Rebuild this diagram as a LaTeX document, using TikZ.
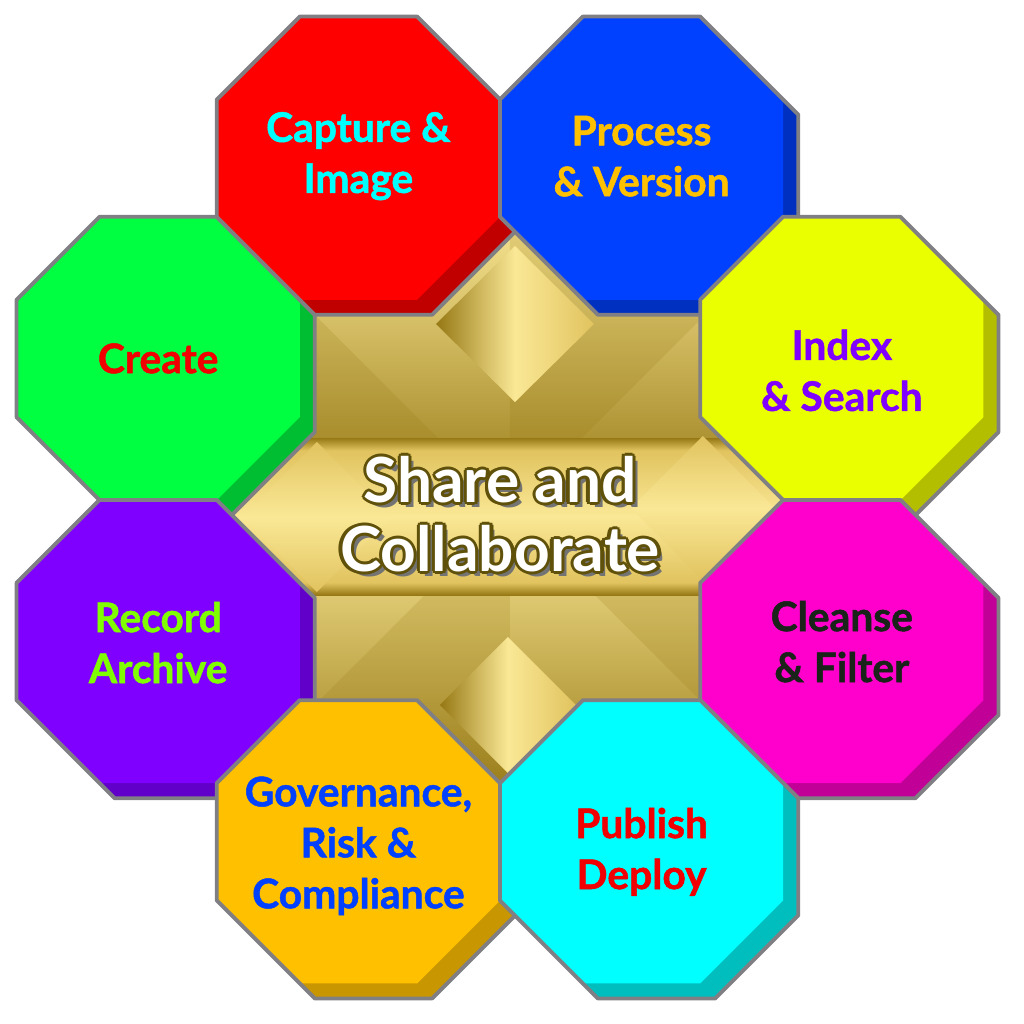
\documentclass[tikz,border=0pt]{standalone}
\usepackage{fontspec}
\setmainfont{Lato}
\newfontfamily\tilefont{Lato}[FakeBold=1.2]
\usepackage{xcolor}

\definecolor{rimgray}{RGB}{128,128,132}
\definecolor{greenface}{RGB}{0,255,64}
\definecolor{greenside}{RGB}{0,190,50}
\definecolor{redface}{RGB}{255,0,0}
\definecolor{redside}{RGB}{192,0,0}
\definecolor{blueface}{RGB}{0,64,255}
\definecolor{blueside}{RGB}{0,48,192}
\definecolor{yellowface}{RGB}{234,255,0}
\definecolor{yellowside}{RGB}{180,190,0}
\definecolor{pinkface}{RGB}{255,0,204}
\definecolor{pinkside}{RGB}{192,0,150}
\definecolor{violetface}{RGB}{128,0,255}
\definecolor{violetside}{RGB}{96,0,200}
\definecolor{amberface}{RGB}{255,192,0}
\definecolor{amberside}{RGB}{200,150,0}
\definecolor{aquaface}{RGB}{0,255,255}
\definecolor{aquaside}{RGB}{0,190,190}
\definecolor{redink}{RGB}{240,0,0}
\definecolor{aquaink}{RGB}{0,255,255}
\definecolor{amberink}{RGB}{255,192,0}
\definecolor{violetink}{RGB}{128,0,255}
\definecolor{darkink}{RGB}{25,35,25}
\definecolor{limeink}{RGB}{128,255,0}
\definecolor{blueink}{RGB}{0,64,255}
\definecolor{goldlight}{RGB}{250,232,150}
\definecolor{goldmid}{RGB}{225,195,95}
\definecolor{golddark}{RGB}{150,120,20}
\definecolor{rimbrown}{RGB}{95,80,10}

\pgfdeclareverticalshading{goldband}{100bp}{color(0bp)=(golddark); color(25bp)=(golddark);
  color(29bp)=(goldmid); color(50bp)=(goldlight); color(71bp)=(goldmid);
  color(75bp)=(golddark); color(100bp)=(golddark)}

\newcommand{\rad}{1.533}
\newcommand{\faceshape}{(22.5:\rad) -- (67.5:\rad) -- (112.5:\rad) -- (157.5:\rad)
  -- (202.5:\rad) -- (247.5:\rad) -- (292.5:\rad) -- (337.5:\rad) -- cycle}
\newcommand{\hullshape}{(67.5:\rad) -- (112.5:\rad) -- (157.5:\rad) -- (202.5:\rad)
  -- ([xshift=1.5mm,yshift=-1.5mm]247.5:\rad) -- ([xshift=1.5mm,yshift=-1.5mm]292.5:\rad)
  -- ([xshift=1.5mm,yshift=-1.5mm]337.5:\rad) -- ([xshift=1.5mm,yshift=-1.5mm]22.5:\rad) -- cycle}
% #1 angle, #2 face, #3 side, #4 ink, #5 text shift, #6 name, #7 text
\newcommand{\ringtile}[7]{%
  \fill[#3, shift={(#1:3.70)}] \hullshape;
  \fill[#2, shift={(#1:3.70)}] \faceshape;
  \draw[hull, shift={(#1:3.70)}] \hullshape;
  \node[tile, text=#4, yshift=#5cm] (#6) at (#1:3.70) {#7};}
% white letters with a brown rim
\newcommand{\rimword}[1]{\setbox0\hbox{#1}%
  \rlap{\kern1.4pt\raisebox{-1.4pt}{\color{black!55}\copy0}}%
  \rlap{\kern-0.9pt{\color{rimbrown}\copy0}}\rlap{\kern0.9pt{\color{rimbrown}\copy0}}%
  \rlap{\raisebox{0.9pt}{\color{rimbrown}\copy0}}\rlap{\raisebox{-0.9pt}{\color{rimbrown}\copy0}}%
  \rlap{\kern0.65pt\raisebox{0.65pt}{\color{rimbrown}\copy0}}\rlap{\kern-0.65pt\raisebox{0.65pt}{\color{rimbrown}\copy0}}%
  \rlap{\kern0.65pt\raisebox{-0.65pt}{\color{rimbrown}\copy0}}\rlap{\kern-0.65pt\raisebox{-0.65pt}{\color{rimbrown}\copy0}}%
  \copy0}

\begin{document}
\begin{tikzpicture}[
    tile/.style={
        font=\fontsize{11.6pt}{14.5pt}\tilefont\bfseries,
        align=center,
        inner sep=0pt
    },
    hull/.style={
        line width=1.1pt,
        draw=rimgray,
        line join=round
    },
    hub/.style={
        font=\fontsize{17.7pt}{19.6pt}\selectfont\bfseries,
        align=center,
        text=white,
        inner sep=0pt
    }
]
    \useasboundingbox (-5,-5.24) rectangle (5.24,5);

    % gold hub, the ring covers its rim
    \begin{scope}
        \clip (0,2.83) -- (0.83,2) -- (2,2) -- (2,0.83) -- (2.83,0) -- (2,-0.83) -- (2,-2) -- (0.83,-2)
            -- (0,-2.83) -- (-0.83,-2) -- (-2,-2) -- (-2,-0.83) -- (-2.83,0) -- (-2,0.83) -- (-2,2) -- (-0.83,2) -- cycle;
        \fill[goldmid] (-3,-3) rectangle (3,3);
        \shade[shading angle=45, top color=goldlight, middle color=goldmid, bottom color=golddark] (0.1,-0.1) rectangle (-2.9,2.9);
        \shade[shading angle=-45, top color=goldlight, middle color=goldmid, bottom color=golddark] (0.1,-0.1) rectangle (3.1,2.9);
        \shade[shading angle=135, top color=goldlight, middle color=goldmid, bottom color=golddark] (0.1,-0.1) rectangle (-2.9,-3.1);
        \shade[shading angle=-135, top color=goldlight, middle color=goldmid, bottom color=golddark] (0.1,-0.1) rectangle (3.1,-3.1);
        \fill[golddark, opacity=0.18] (0.1,-0.1) -- (-2.9,2.9) -- (-2.9,-0.1) -- cycle;
        \fill[golddark, opacity=0.18] (0.1,-0.1) -- (3.1,2.9) -- (0.1,2.9) -- cycle;
        \fill[golddark, opacity=0.18] (0.1,-0.1) -- (3.1,-3.1) -- (3.1,-0.1) -- cycle;
        \fill[golddark, opacity=0.18] (0.1,-0.1) -- (-2.9,-3.1) -- (0.1,-3.1) -- cycle;
        \shade[shading=goldband] (-3,0.62) rectangle (3,-0.95);
        \shade[left color=golddark, right color=goldmid, middle color=goldlight] (0.15,2.54) -- (0.94,1.76) -- (0.15,0.98) -- (-0.64,1.76) -- cycle;
        \shade[left color=golddark, right color=goldmid, middle color=goldlight] (0.08,-1.37) -- (0.76,-2.05) -- (0.08,-2.73) -- (-0.60,-2.05) -- cycle;
        \shade[top color=goldmid, bottom color=goldmid, middle color=goldlight] (-1.83,0.58) -- (-1.08,-0.17) -- (-1.83,-0.92) -- (-2.58,-0.17) -- cycle;
        \shade[top color=goldmid, bottom color=goldmid, middle color=goldlight] (2.03,0.64) -- (2.75,-0.08) -- (2.03,-0.80) -- (1.31,-0.08) -- cycle;
    \end{scope}

    \node[hub] (share) at (0,-0.15) {\rimword{Share and}\\\rimword{Collaborate}};

    % ring of tiles, drawn so that each covers the shadow of the one before
    \ringtile{157.5}{greenface}{greenside}{redink}{0}{create}{Create}
    \ringtile{112.5}{redface}{redside}{aquaink}{0.02}{capture}{Capture \&\\Image}
    \ringtile{67.5}{blueface}{blueside}{amberink}{0.02}{process}{Process\\\& Version}
    \ringtile{22.5}{yellowface}{yellowside}{violetink}{-0.12}{index}{Index\\\& Search}
    \ringtile{-22.5}{pinkface}{pinkside}{darkink}{0}{cleanse}{Cleanse\\\& Filter}
    \ringtile{202.5}{violetface}{violetside}{limeink}{-0.01}{record}{Record\\Archive}
    \ringtile{247.5}{amberface}{amberside}{blueink}{-0.04}{govern}{Governance,\\Risk \&\\Compliance}
    \ringtile{292.5}{aquaface}{aquaside}{redink}{-0.1}{publish}{Publish\\Deploy}
\end{tikzpicture}
\end{document}
